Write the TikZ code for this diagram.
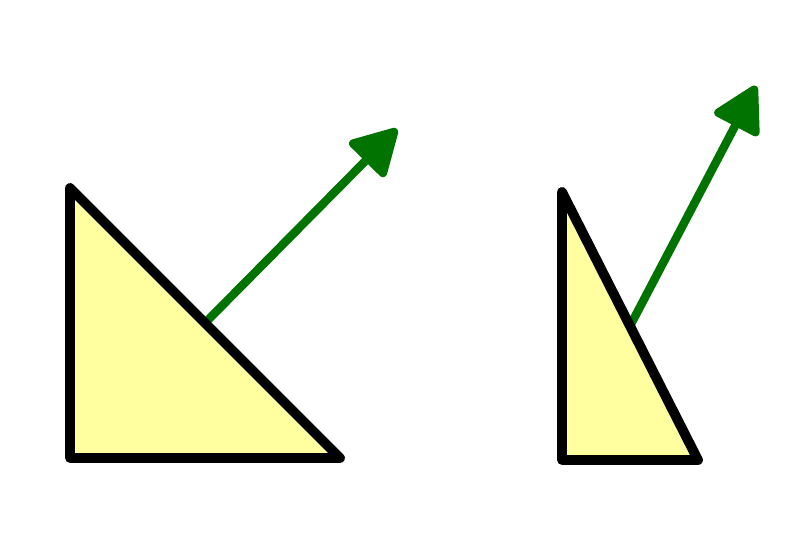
\documentclass[tikz,border=0pt]{standalone}
\usepackage{tikz}
\usetikzlibrary{arrows.meta,calc}
\definecolor{trifill}{RGB}{255,255,160}
\definecolor{normalgreen}{RGB}{0,115,0}
\tikzset{
  tri/.style={draw=black, fill=trifill, line width=2.8pt, line join=round},
  normalvec/.style={draw=normalgreen, line width=2.4pt, -{Triangle[length=5mm, width=5.4mm, round]}}
}
\begin{document}
\begin{tikzpicture}
                \useasboundingbox (0,0) rectangle (8,5.33);
                % left triangle and its normal
                \coordinate (A1) at (0.70,3.45);
                \coordinate (B1) at (0.70,0.75);
                \coordinate (C1) at (3.40,0.75);
                \coordinate (N1) at (3.97,4.04);
                \draw[normalvec] ($(A1)!0.5!(C1)$) -- (N1);
                \draw[tri] (A1) -- (B1) -- (C1) -- cycle;
                % right triangle, scaled in x
                \coordinate (A2) at (5.62,3.41);
                \coordinate (B2) at (5.62,0.73);
                \coordinate (C2) at (6.98,0.73);
                \coordinate (N2) at (7.56,4.47);
                \draw[normalvec] ($(A2)!0.5!(C2)$) -- (N2);
                \draw[tri] (A2) -- (B2) -- (C2) -- cycle;
            \end{tikzpicture}
\end{document}
